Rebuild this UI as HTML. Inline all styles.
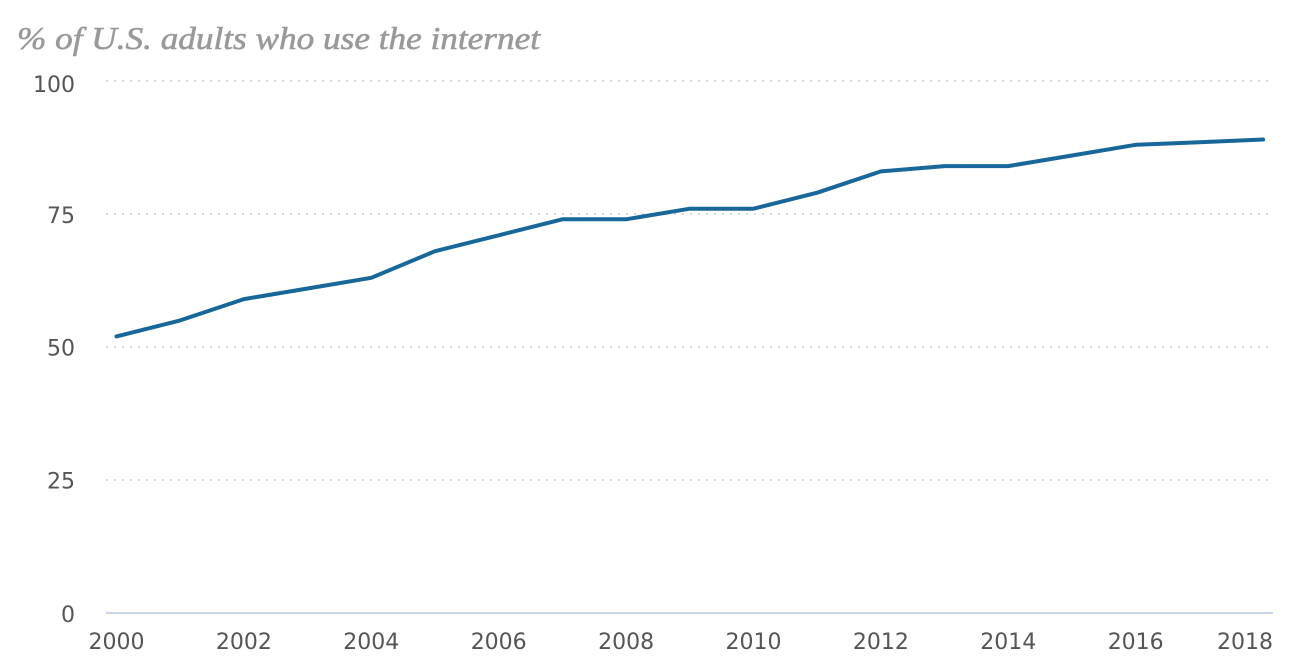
<!DOCTYPE html>
<html>
<head>
<meta charset="utf-8">
<style>
  html, body { margin:0; padding:0; background:#fff; }
  svg { display:block; }
</style>
</head>
<body>
<svg width="1290" height="672" viewBox="0 0 1290 672" xmlns="http://www.w3.org/2000/svg">
  <rect width="1290" height="672" fill="#fff"/>
  <text x="17" y="49" font-family="'Liberation Serif', serif" font-style="italic" font-size="32" fill="#999" stroke="#999" stroke-width="0.6" textLength="523" lengthAdjust="spacingAndGlyphs">% of U.S. adults who use the internet</text>

  <g stroke="#d8d8d8" stroke-width="2" stroke-dasharray="2 6">
    <line x1="106" y1="81" x2="1268" y2="81"/>
    <line x1="106" y1="214" x2="1268" y2="214"/>
    <line x1="106" y1="347" x2="1268" y2="347"/>
    <line x1="106" y1="480" x2="1268" y2="480"/>
  </g>
  <line x1="106" y1="613" x2="1273" y2="613" stroke="#c9d4e8" stroke-width="2"/>

  <g font-family="'DejaVu Sans', 'Liberation Sans', sans-serif" font-size="22" fill="#555" text-anchor="end">
    <text x="75" y="92">100</text>
    <text x="75" y="223">75</text>
    <text x="75" y="355.5">50</text>
    <text x="75" y="488.5">25</text>
    <text x="75" y="622">0</text>
  </g>

  <g font-family="'DejaVu Sans', 'Liberation Sans', sans-serif" font-size="22" fill="#555" text-anchor="middle">
    <text x="116.5" y="649">2000</text>
    <text x="243.9" y="649">2002</text>
    <text x="371.3" y="649">2004</text>
    <text x="498.7" y="649">2006</text>
    <text x="626.1" y="649">2008</text>
    <text x="753.5" y="649">2010</text>
    <text x="880.9" y="649">2012</text>
    <text x="1008.3" y="649">2014</text>
    <text x="1135.7" y="649">2016</text>
    <text x="1273" y="649" text-anchor="end">2018</text>
  </g>

  <polyline fill="none" stroke="#18679a" stroke-width="4" stroke-linejoin="round" stroke-linecap="round"
    points="116.5,336.4 180.2,320.4 243.9,299.1 307.6,288.5 371.3,277.8 435.0,251.2 498.7,235.3 562.4,219.3 626.1,219.3 689.8,208.7 753.5,208.7 817.2,192.7 880.9,171.4 944.6,166.1 1008.3,166.1 1072.0,155.5 1135.7,144.8 1199.4,142.2 1263.1,139.5"/>
</svg>
</body>
</html>
